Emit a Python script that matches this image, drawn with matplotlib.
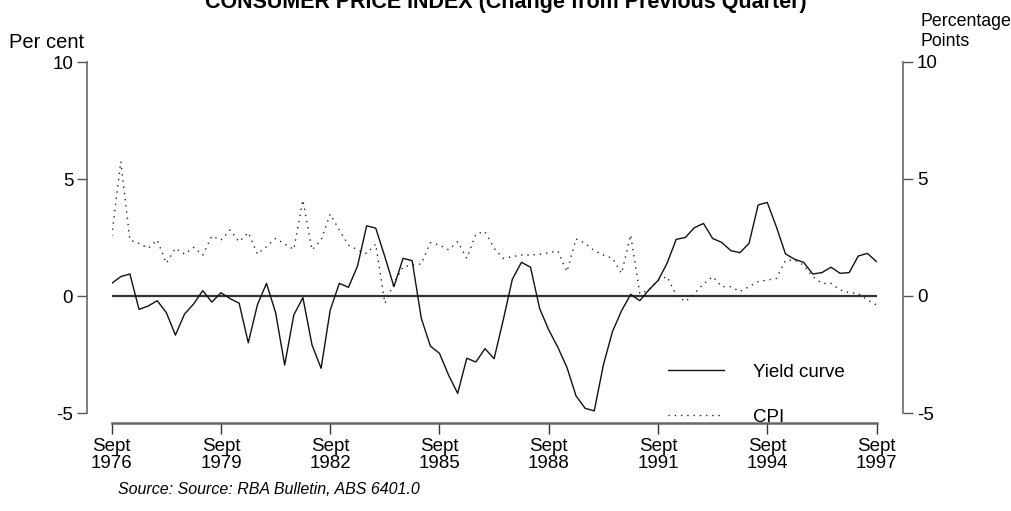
import matplotlib
matplotlib.use("Agg")
import matplotlib.pyplot as plt
import numpy as np

plt.rcParams['font.family'] = ['Liberation Sans', 'DejaVu Sans']

# Quarterly data, Sept 1976 .. Sept 1997
yield_curve = [0.54, 0.83, 0.94, -0.57, -0.43, -0.20, -0.71, -1.67, -0.77, -0.34,
               0.23, -0.26, 0.14, -0.11, -0.31, -2.00, -0.38, 0.54, -0.71, -2.95,
               -0.81, -0.07, -2.09, -3.09, -0.60, 0.54, 0.37, 1.28, 3.00, 2.90,
               1.68, 0.40, 1.61, 1.51, -0.95, -2.14, -2.45, -3.38, -4.16, -2.66,
               -2.82, -2.25, -2.68, -1.03, 0.71, 1.44, 1.23, -0.53, -1.45, -2.19,
               -3.05, -4.27, -4.80, -4.91, -2.95, -1.52, -0.63, 0.07, -0.20, 0.26,
               0.66, 1.40, 2.42, 2.50, 2.92, 3.10, 2.46, 2.29, 1.94, 1.85,
               2.25, 3.89, 4.00, 2.96, 1.80, 1.57, 1.44, 0.94, 1.00, 1.23,
               0.97, 1.00, 1.71, 1.82, 1.47]
cpi = [2.56, 5.74, 2.39, 2.25, 2.04, 2.39, 1.40, 2.04, 1.79, 2.08,
       1.75, 2.56, 2.39, 2.82, 2.32, 2.71, 1.79, 2.11, 2.46, 2.22,
       1.99, 4.10, 1.97, 2.39, 3.50, 2.82, 2.18, 1.97, 1.82, 2.22,
       -0.31, 0.54, 1.25, 1.32, 1.37, 2.28, 2.18, 1.97, 2.32, 1.61,
       2.65, 2.75, 2.04, 1.61, 1.68, 1.75, 1.75, 1.78, 1.85, 1.92,
       1.04, 2.44, 2.25, 1.94, 1.75, 1.61, 0.97, 2.61, 0.10, 0.26,
       0.68, 0.83, 0.04, -0.24, 0.11, 0.51, 0.83, 0.40, 0.40, 0.19,
       0.40, 0.61, 0.68, 0.75, 1.52, 1.54, 1.32, 0.83, 0.54, 0.54,
       0.26, 0.14, 0.11, -0.17, -0.38]
tick_labels = ["Sept\n1976", "Sept\n1979", "Sept\n1982", "Sept\n1985",
               "Sept\n1988", "Sept\n1991", "Sept\n1994", "Sept\n1997"]
y_ticks = [-5, 0, 5, 10]

W, H = 1012, 511
fig = plt.figure(figsize=(W / 100, H / 100), dpi=100)
x0, x1 = 111.7, 876.5
ytop, ybot = 62, 413
ax = fig.add_axes([x0 / W, 1 - ybot / H, (x1 - x0) / W, (ybot - ytop) / H])
x = np.arange(len(yield_curve))
ax.set_xlim(0, len(yield_curve) - 1)
ax.set_ylim(-5, 10)

ax.axhline(0, color='#333333', lw=1.6, zorder=1)
ax.plot(x, yield_curve, color='#111111', lw=1.0, label='Yield curve', zorder=3)
ax.plot(x, cpi, color='#222222', lw=1.0, ls=(0, (1, 3.5)), label='CPI', zorder=2)

spine_col = '#666666'
ax.spines['top'].set_visible(False)
ax.spines['right'].set_visible(False)
ax.spines['left'].set_position(('outward', 24.6 * 0.72))
ax.spines['bottom'].set_position(('outward', 10 * 0.72))
ax.spines['left'].set_color(spine_col)
ax.spines['bottom'].set_color(spine_col)
ax.spines['left'].set_linewidth(1.2)
ax.spines['bottom'].set_linewidth(1.8)

fs = 13.5
ax.set_xticks(np.arange(0, len(yield_curve), 12))
ax.set_xticklabels(tick_labels, linespacing=1.0)
ax.set_yticks(y_ticks)
ax.set_yticklabels([str(v) for v in y_ticks])
ax.tick_params(axis='x', length=8, width=1.0, color='#333333', pad=3, labelsize=fs)
ax.tick_params(axis='y', length=7, width=1.0, color='#555555', pad=3, labelsize=fs)

ax2 = ax.twinx()
ax2.set_ylim(-5, 10)
ax2.set_yticks(y_ticks)
ax2.set_yticklabels([str(v) for v in y_ticks])
for s in ['top', 'left', 'bottom']:
    ax2.spines[s].set_visible(False)
ax2.spines['right'].set_position(('outward', 26.5 * 0.72))
ax2.spines['right'].set_color(spine_col)
ax2.spines['right'].set_linewidth(1.2)
ax2.tick_params(axis='y', length=7, width=1.0, color='#555555', pad=3, labelsize=fs)

leg = ax.legend(loc='lower left', bbox_to_anchor=((651 - x0) / (x1 - x0), -0.085),
                frameon=False, fontsize=fs, handlelength=3.0, handletextpad=1.55,
                labelspacing=1.5)

fig.text(506 / W, 1 - 8 / H, "CONSUMER PRICE INDEX (Change from Previous Quarter)",
         ha='center', va='baseline', fontsize=15.5, fontweight='bold')
fig.text(9 / W, 1 - 42 / H, "Per cent", ha='left', va='center', fontsize=14.5)
fig.text(921 / W, 1 - 21 / H, "Percentage", ha='left', va='center', fontsize=12.8)
fig.text(921 / W, 1 - 41 / H, "Points", ha='left', va='center', fontsize=12.8)
fig.text(118 / W, 1 - 490 / H, "Source: Source: RBA Bulletin, ABS 6401.0",
         ha='left', va='center', fontsize=11.5, style='italic')

fig.savefig("out.png", dpi=100)
